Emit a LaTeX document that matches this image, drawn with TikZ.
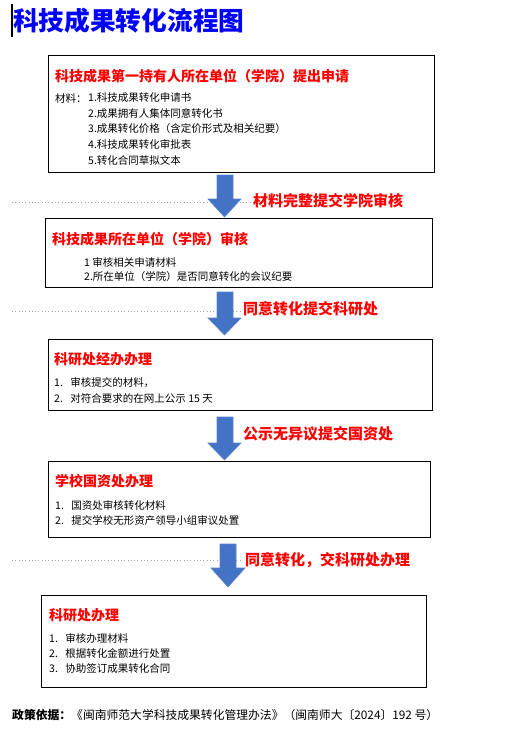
\documentclass[tikz,border=0pt]{standalone}
\usepackage{fontspec}
\setmainfont{Noto Sans CJK SC}
\definecolor{arrowblue}{HTML}{4472C4}
\definecolor{arrowedge}{HTML}{5B84CE}
\definecolor{titleblue}{HTML}{0000FF}
\definecolor{labelred}{HTML}{FF0000}
\begin{document}
\begin{tikzpicture}[x=1pt,y=-1pt,
  box/.style={draw=black,line width=1.2pt,anchor=north west,inner sep=0pt},
  hd/.style={anchor=west,inner sep=0pt,text=labelred,font=\fontsize{14}{14}\selectfont\bfseries},
  item/.style={anchor=west,inner sep=0pt,font=\fontsize{10.5}{10.5}\selectfont},
  lbl/.style={anchor=west,inner sep=0pt,text=labelred,font=\fontsize{15}{15}\selectfont\bfseries},
  barrow/.style={fill=arrowblue,draw=arrowedge,line width=0.6pt},
  dotline/.style={draw=gray!70,line width=0.9pt,dash pattern=on 0.9pt off 2.4pt}]
\useasboundingbox[fill=white] (0,0) rectangle (509,729);

% cursor and title
\coordinate (cur1) at (12,4);
\coordinate (cur2) at (12,37);
\draw[line width=1.5pt] (cur1) -- (cur2);
\node[anchor=west,inner sep=0pt,text=titleblue,font=\fontsize{25.7}{26}\selectfont\bfseries] (title) at (13,21) {科技成果转化流程图};

% dotted lines
\coordinate (d1a) at (12,202); \coordinate (d1b) at (253,202);
\coordinate (d2a) at (12,311); \coordinate (d2b) at (242,311);
\coordinate (d4a) at (12,560); \coordinate (d4b) at (243,560);
\draw[dotline] (d1a) -- (d1b);
\draw[dotline] (d2a) -- (d2b);
\draw[dotline] (d4a) -- (d4b);

% box 1
\node[box,minimum width=386pt,minimum height=117pt] (b1) at (48,55) {};
\node[hd] (b1t) at (55,76) {科技成果第一持有人所在单位（学院）提出申请};
\node[item] (b1m) at (55,98) {材料：};
\node[item] (b1i1) at (88,98) {1.科技成果转化申请书};
\node[item] (b1i2) at (88,113.5) {2.成果拥有人集体同意转化书};
\node[item] (b1i3) at (88,129) {3.成果转化价格（含定价形式及相关纪要）};
\node[item] (b1i4) at (88,144.5) {4.科技成果转化审批表};
\node[item] (b1i5) at (88,160) {5.转化合同草拟文本};

% arrow 1
\filldraw[barrow] (217,175) -- (233,175) -- (233,199) -- (241,199) -- (224.5,217) -- (208,199) -- (217,199) -- cycle;
\node[lbl] (l1) at (253,201) {材料完整提交学院审核};

% box 2
\node[box,minimum width=387pt,minimum height=69pt] (b2) at (45,218) {};
\node[hd] (b2t) at (52,239) {科技成果所在单位（学院）审核};
\node[item] (b2i1) at (84,262) {1 审核相关申请材料};
\node[item] (b2i2) at (84,277) {2.所在单位（学院）是否同意转化的会议纪要};

% arrow 2
\filldraw[barrow] (217,292) -- (233,292) -- (233,318) -- (241,318) -- (224.5,335) -- (208,318) -- (217,318) -- cycle;
\node[lbl] (l2) at (243,309) {同意转化提交科研处};

% box 3
\node[box,minimum width=384pt,minimum height=71pt] (b3) at (48,339) {};
\node[hd] (b3t) at (54,359) {科研处经办办理};
\node[item] (b3i1) at (54,383) {1.\hspace{7.5pt}审核提交的材料，};
\node[item] (b3i2) at (54,398) {2.\hspace{7.5pt}对符合要求的在网上公示 15 天};

% arrow 3
\filldraw[barrow] (217,417) -- (233,417) -- (233,443) -- (241,443) -- (224.5,460) -- (208,443) -- (217,443) -- cycle;
\node[lbl] (l3) at (243,434) {公示无异议提交国资处};

% box 4
\node[box,minimum width=382pt,minimum height=76pt] (b4) at (48,461) {};
\node[hd] (b4t) at (55,481) {学校国资处办理};
\node[item] (b4i1) at (55,505) {1.\hspace{7.5pt}国资处审核转化材料};
\node[item] (b4i2) at (55,520) {2.\hspace{7.5pt}提交学校无形资产领导小组审议处置};

% arrow 4
\filldraw[barrow] (220,544) -- (236,544) -- (236,568) -- (245,568) -- (228,587) -- (211,568) -- (220,568) -- cycle;
\node[lbl] (l4) at (245,560) {同意转化，交科研处办理};

% box 5
\node[box,minimum width=385pt,minimum height=92pt] (b5) at (41,595) {};
\node[hd] (b5t) at (49,615) {科研处办理};
\node[item] (b5i1) at (49,638) {1.\hspace{7.5pt}审核办理材料};
\node[item] (b5i2) at (49,653.5) {2.\hspace{7.5pt}根据转化金额进行处置};
\node[item] (b5i3) at (49,669) {3.\hspace{7.5pt}协助签订成果转化合同};

% policy line
\node[anchor=west,inner sep=0pt,font=\fontsize{11.8}{12}\selectfont] (policy) at (12,715) {\textbf{政策依据：}《闽南师范大学科技成果转化管理办法》（闽南师大〔2024〕192 号）};
\end{tikzpicture}
\end{document}
